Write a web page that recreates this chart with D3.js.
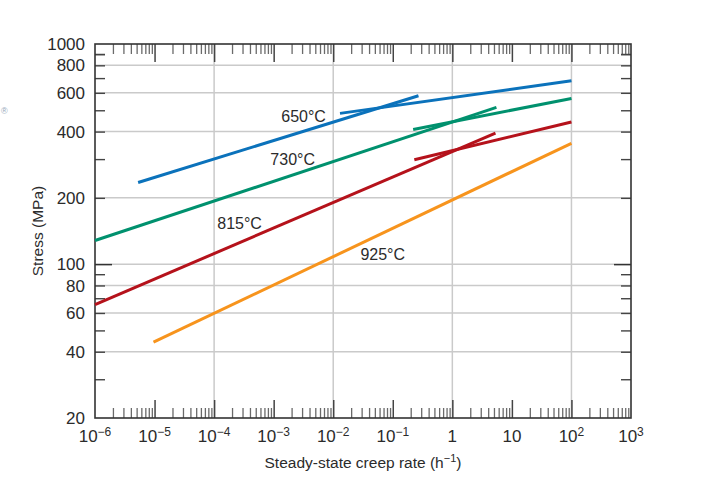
<!DOCTYPE html>
<html><head><meta charset="utf-8">
<script src="https://cdn.jsdelivr.net/npm/d3@7"></script>
<style>body{margin:0;background:#fff}svg{display:block}text{font-family:"Liberation Sans",Arial,sans-serif;fill:#2b2b2b}</style>
</head><body><svg id="c" width="718" height="481"></svg>
<script>
// ---- data ----
const temperatures = ["650°C","730°C","815°C","925°C"];
const colors = ["#0b72bb","#00916e","#b5121b","#f7941d"];
// main lines [rate (h^-1), stress (MPa)]
const line650 = [[5.3e-6,235],[0.27,582]];
const line730 = [[1e-6,128],[5.5,515]];
const line815 = [[1e-6,65.5],[5.3,394]];
const line925 = [[9.6e-6,44.2],[100,354]];
// short crossing segments
const seg650 = [[0.013,484],[100,681]];
const seg730 = [[0.22,409],[100,566]];
const seg815 = [[0.23,298],[100,442]];
// label anchors [rate, stress]
const labelPos = [[1.34e-3,442],[8.8e-4,282],[1.13e-4,144],[0.0286,104.8]];
const xExponents = [-6,-5,-4,-3,-2,-1,0,1,2,3];
const xGridExponents = [-4,-2,0,2];
const yTickLabels = [20,40,60,80,100,200,400,600,800,1000];
const yGrid = [40,60,80,100,200,400,600,800];

// ---- layout ----
const L=95,T=44,R=631,B=418;
const svg=d3.select("#c");
const x=d3.scaleLog().domain([1e-6,1e3]).range([L,R]);
const y=d3.scaleLog().domain([20,1000]).range([B,T]);

const xMajor=xExponents.map(e=>Math.pow(10,e));
const xMinor=[];
xExponents.slice(0,-1).forEach(e=>{for(let k=2;k<=9;k++)xMinor.push(k*Math.pow(10,e));});
const yMinor=[];
for(let v=30;v<100;v+=10)yMinor.push(v);
for(let v=200;v<1000;v+=100)yMinor.push(v);

// grid
const g=svg.append("g");
g.selectAll(".vg").data(xGridExponents).join("line")
 .attr("x1",d=>x(Math.pow(10,d))).attr("x2",d=>x(Math.pow(10,d)))
 .attr("y1",T).attr("y2",B).attr("stroke","#cacaca").attr("stroke-width",1.5);
g.selectAll(".hg").data(yGrid).join("line")
 .attr("y1",d=>y(d)).attr("y2",d=>y(d))
 .attr("x1",L).attr("x2",R).attr("stroke","#cacaca").attr("stroke-width",1.5);

// ticks via axes (inward)
function styleAxis(sel,col,w){sel.select(".domain").remove();sel.selectAll("line").attr("stroke",col).attr("stroke-width",w);sel.selectAll("text").remove();}
svg.append("g").attr("transform",`translate(0,${B})`).call(d3.axisBottom(x).tickValues(xMinor).tickSize(-10).tickFormat("")).call(s=>styleAxis(s,"#6a6a6a",1.3));
svg.append("g").attr("transform",`translate(0,${B})`).call(d3.axisBottom(x).tickValues(xMajor.slice(1,-1)).tickSize(-18).tickFormat("")).call(s=>styleAxis(s,"#444",1.5));
svg.append("g").attr("transform",`translate(0,${T})`).call(d3.axisTop(x).tickValues(xMinor).tickSize(-10).tickFormat("")).call(s=>styleAxis(s,"#6a6a6a",1.3));
svg.append("g").attr("transform",`translate(0,${T})`).call(d3.axisTop(x).tickValues(xMajor.slice(1,-1)).tickSize(-18).tickFormat("")).call(s=>styleAxis(s,"#444",1.5));
svg.append("g").attr("transform",`translate(${L},0)`).call(d3.axisLeft(y).tickValues(yMinor.concat([900])).tickSize(-10).tickFormat("")).call(s=>styleAxis(s,"#444",1.4));
svg.append("g").attr("transform",`translate(${L},0)`).call(d3.axisLeft(y).tickValues([100]).tickSize(-17).tickFormat("")).call(s=>styleAxis(s,"#333",1.5));
svg.append("g").attr("transform",`translate(${R},0)`).call(d3.axisRight(y).tickValues(yMinor.concat([900])).tickSize(-10).tickFormat("")).call(s=>styleAxis(s,"#444",1.4));
svg.append("g").attr("transform",`translate(${R},0)`).call(d3.axisRight(y).tickValues([100]).tickSize(-17).tickFormat("")).call(s=>styleAxis(s,"#333",1.5));

// frame
svg.append("rect").attr("x",L).attr("y",T).attr("width",R-L).attr("height",B-T)
 .attr("fill","none").attr("stroke","#333").attr("stroke-width",1.6);

// y labels
svg.selectAll(".yl").data(yTickLabels).join("text")
 .attr("x",L-10).attr("y",d=>y(d)).attr("dy","0.36em").attr("text-anchor","end")
 .attr("font-size",17).text(d=>d);

// x labels
const xl=svg.selectAll(".xl").data(xExponents).join("text")
 .attr("x",d=>x(Math.pow(10,d))).attr("y",442).attr("text-anchor","middle").attr("font-size",17);
xl.each(function(e){
  const t=d3.select(this);
  if(e===0){t.text("1");}
  else if(e===1){t.text("10");}
  else{t.append("tspan").text("10");
       t.append("tspan").attr("dy",-6).attr("font-size",12).text(e<0?"\u2212"+(-e):String(e));}
});

// axis titles
const xt=svg.append("text").attr("x",(L+R)/2).attr("y",468).attr("text-anchor","middle").attr("font-size",15.5);
xt.append("tspan").text("Steady-state creep rate (h");
xt.append("tspan").attr("dy",-6).attr("font-size",11).text("\u22121");
xt.append("tspan").attr("dy",6).text(")");
svg.append("text").attr("transform",`translate(43,${(T+B)/2}) rotate(-90)`).attr("text-anchor","middle").attr("font-size",15.5).text("Stress (MPa)");

// stray mark
svg.append("text").attr("x",1).attr("y",114).attr("font-size",9).style("fill","#9ab").text("\u00ae");

// lines
const lineGen=d3.line().x(d=>x(d[0])).y(d=>y(d[1]));
const mains=[line650,line730,line815,line925];
const segs=[seg650,seg730,seg815,null];
mains.forEach((m,i)=>{
  svg.append("path").attr("d",lineGen(m)).attr("stroke",colors[i]).attr("stroke-width",3).attr("fill","none");
  if(segs[i])svg.append("path").attr("d",lineGen(segs[i])).attr("stroke",colors[i]).attr("stroke-width",3).attr("fill","none");
});
svg.selectAll(".tl").data(temperatures).join("text")
 .attr("x",(d,i)=>x(labelPos[i][0])).attr("y",(d,i)=>y(labelPos[i][1]))
 .attr("font-size",16).text(d=>d);
</script></body></html>
